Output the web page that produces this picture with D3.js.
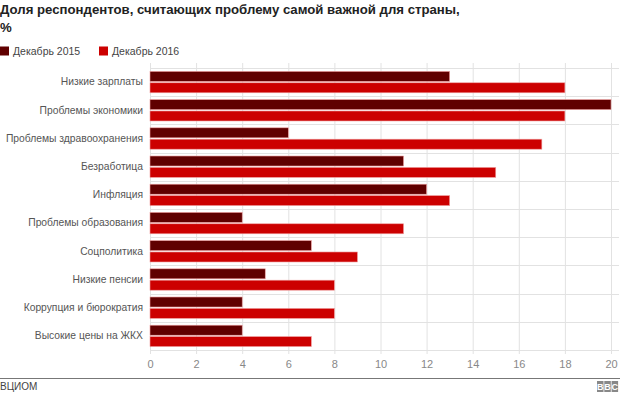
<!DOCTYPE html>
<html>
<head>
<meta charset="utf-8">
<script src="https://cdn.jsdelivr.net/npm/d3@7"></script>
<style>
  body { margin: 0; background: #fff; }
  svg { display: block; font-family: "Liberation Sans", Arial, sans-serif; }
</style>
</head>
<body>
<script>
const categories = ["Низкие зарплаты", "Проблемы экономики", "Проблемы здравоохранения", "Безработица",
  "Инфляция", "Проблемы образования", "Соцполитика", "Низкие пенсии",
  "Коррупция и бюрократия", "Высокие цены на ЖКХ"];
const dec2015 = [13, 20, 6, 11, 12, 4, 7, 5, 4, 4];
const dec2016 = [18, 18, 17, 15, 13, 11, 9, 8, 8, 7];
const seriesNames = ["Декабрь 2015", "Декабрь 2016"];
const seriesColors = ["#600000", "#cc0000"];
const xTicks = [0, 2, 4, 6, 8, 10, 12, 14, 16, 18, 20];

const width = 640, height = 394;
const margin = {top: 68, right: 29, bottom: 46, left: 150};

const svg = d3.select("body").append("svg")
  .attr("width", width).attr("height", height);

// title
svg.append("text").attr("x", 0).attr("y", 14)
  .style("font-size", "13.2px").style("font-weight", "bold").style("fill", "#222")
  .text("Доля респондентов, считающих проблему самой важной для страны,");
svg.append("text").attr("x", 0).attr("y", 32)
  .style("font-size", "13.2px").style("font-weight", "bold").style("fill", "#222")
  .text("%");

// legend
const lg = svg.append("g").attr("transform", "translate(0,46)");
const lx = [0, 99];
seriesNames.forEach((s, i) => {
  lg.append("rect").attr("x", lx[i]).attr("y", 0.5).attr("width", 9).attr("height", 9)
    .style("fill", seriesColors[i]);
  lg.append("text").attr("x", lx[i] + 13).attr("y", 9)
    .style("font-size", "10.5px").style("fill", "#444").text(s);
});

const x = d3.scaleLinear().domain([0, 20]).range([margin.left, 611]);
const y = d3.scaleBand().domain(categories).range([margin.top, height - margin.bottom + 2]);
const inner = d3.scaleBand().domain([0, 1]).range([0, y.bandwidth()]).paddingInner(0.12).paddingOuter(0.3);

// vertical grid
svg.append("g").selectAll("line").data(xTicks).enter().append("line")
  .attr("x1", d => x(d)).attr("x2", d => x(d))
  .attr("y1", margin.top - 5).attr("y2", y.range()[1] + 4)
  .style("stroke", "#e2e2e2").style("stroke-width", 1)
  .attr("transform", "translate(0.5,0)");

// horizontal separators
const seps = categories.map(c => y(c)).concat([y.range()[1]]);
svg.append("g").selectAll("line").data(seps).enter().append("line")
  .attr("x1", margin.left).attr("x2", 619)
  .attr("y1", d => Math.round(d) + 0.5).attr("y2", d => Math.round(d) + 0.5)
  .style("stroke", "#e2e2e2");

// x axis labels
const xAxis = g => g
  .attr("transform", `translate(0,${y.range()[1] + 6})`)
  .call(d3.axisBottom(x).tickValues(xTicks).tickSize(0).tickPadding(4))
  .call(g => g.select(".domain").remove())
  .call(g => g.selectAll("text").style("fill", "#888").style("font-size", "11px")
    .style("font-family", "Liberation Sans, Arial, sans-serif"));
svg.append("g").call(xAxis);

// y axis labels
const yAxis = g => g
  .attr("transform", `translate(${margin.left - 7},0)`)
  .call(d3.axisLeft(y).tickSize(0).tickPadding(0))
  .call(g => g.select(".domain").remove())
  .call(g => g.selectAll("text").style("fill", "#555").style("font-size", "10.3px")
    .style("font-family", "Liberation Sans, Arial, sans-serif"));
svg.append("g").call(yAxis);

// bars
const rows = categories.map((c, i) => ({cat: c, vals: [dec2015[i], dec2016[i]]}));
const bg = svg.append("g");
rows.forEach(r => {
  r.vals.forEach((v, j) => {
    bg.append("rect")
      .attr("x", x(0)).attr("y", y(r.cat) + inner(j))
      .attr("width", x(v) - x(0)).attr("height", inner.bandwidth())
      .style("fill", seriesColors[j])
      .style("stroke", "#f0a0a0").style("stroke-width", 0.6);
  });
});

// footer
svg.append("line").attr("x1", 0).attr("x2", 620).attr("y1", 378.5).attr("y2", 378.5)
  .style("stroke", "#777").style("stroke-width", 1);
svg.append("text").attr("x", 0).attr("y", 390)
  .style("font-size", "10px").style("fill", "#444").text("ВЦИОМ");

const bbc = svg.append("g").attr("transform", "translate(597,381)");
["B", "B", "C"].forEach((ch, i) => {
  bbc.append("rect").attr("x", i * 7.3).attr("y", 0).attr("width", 6.5).attr("height", 11)
    .style("fill", "#888");
  bbc.append("text").attr("x", i * 7.3 + 3.25).attr("y", 9).attr("text-anchor", "middle")
    .style("font-size", "9px").style("font-weight", "bold").style("fill", "#fff").text(ch);
});
</script>
</body>
</html>
